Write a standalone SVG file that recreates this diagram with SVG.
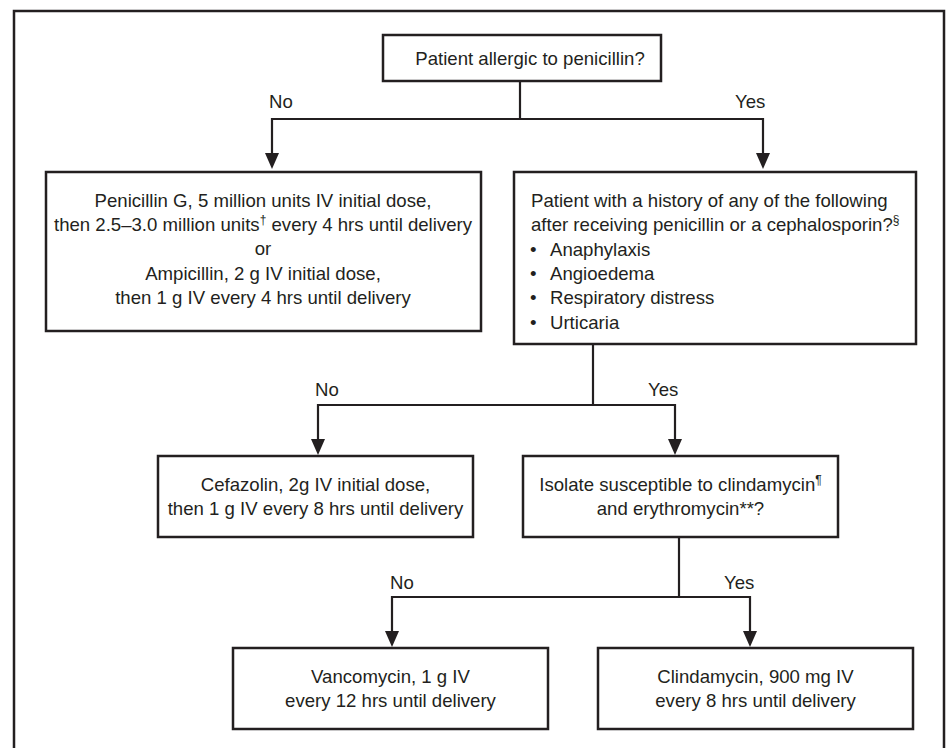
<svg xmlns="http://www.w3.org/2000/svg" width="950" height="748" viewBox="0 0 950 748">
<defs>
<style>
.box{fill:#ffffff;stroke:#231f20;stroke-width:2.5}
.con{fill:none;stroke:#231f20;stroke-width:2.2}
.t{font-family:"Liberation Sans",Arial,sans-serif;font-size:18.6px;fill:#231f20}
.c{text-anchor:middle}
.lbl{font-family:"Liberation Sans",Arial,sans-serif;font-size:18.6px;fill:#231f20}
.sup{font-size:12px}
</style>
<marker id="arr" viewBox="0 0 16 14" refX="0" refY="7" markerWidth="16" markerHeight="14" markerUnits="userSpaceOnUse" orient="auto">
<path d="M0,0 L16,7 L0,14 z" fill="#231f20"/>
</marker>
</defs>
<rect width="950" height="748" fill="#ffffff"/>
<path d="M14,760 V11 H944 V760" fill="none" stroke="#231f20" stroke-width="2.5"/>

<g id="connectors">
<path class="con" d="M520,81 V119"/>
<path class="con" d="M520,119 H272 V153" marker-end="url(#arr)"/>
<path class="con" d="M520,119 H763 V153" marker-end="url(#arr)"/>
<path class="con" d="M593,344 V405"/>
<path class="con" d="M593,405 H318 V439" marker-end="url(#arr)"/>
<path class="con" d="M593,405 H675 V439" marker-end="url(#arr)"/>
<path class="con" d="M679,537 V597"/>
<path class="con" d="M679,597 H392 V631" marker-end="url(#arr)"/>
<path class="con" d="M679,597 H750 V631" marker-end="url(#arr)"/>
<text class="lbl" x="269" y="108">No</text>
<text class="lbl" x="735" y="108">Yes</text>
<text class="lbl" x="315" y="396">No</text>
<text class="lbl" x="648" y="396">Yes</text>
<text class="lbl" x="390" y="589">No</text>
<text class="lbl" x="724" y="589">Yes</text>
</g>

<g id="n-allergic">
<rect class="box" x="383" y="35" width="278" height="46"/>
<text class="t c" x="530" y="65">Patient allergic to penicillin?</text>
</g>

<g id="n-penicillin">
<rect class="box" x="46" y="172" width="435" height="159"/>
<text class="t c" x="263" y="207">Penicillin G, 5 million units IV initial dose,</text>
<text class="t c" x="263" y="231">then 2.5–3.0 million units<tspan class="sup" dy="-7">†</tspan><tspan dy="7"> every 4 hrs until delivery</tspan></text>
<text class="t c" x="263" y="255">or</text>
<text class="t c" x="263" y="280">Ampicillin, 2 g IV initial dose,</text>
<text class="t c" x="263" y="304">then 1 g IV every 4 hrs until delivery</text>
</g>

<g id="n-history">
<rect class="box" x="514" y="172" width="402" height="172"/>
<text class="t" x="531" y="207">Patient with a history of any of the following</text>
<text class="t" x="531" y="231">after receiving penicillin or a cephalosporin?<tspan class="sup" dy="-7">§</tspan></text>
<text class="t" x="530" y="256" font-size="13">•</text>
<text class="t" x="550" y="256">Anaphylaxis</text>
<text class="t" x="530" y="280" font-size="13">•</text>
<text class="t" x="550" y="280">Angioedema</text>
<text class="t" x="530" y="304" font-size="13">•</text>
<text class="t" x="550" y="304">Respiratory distress</text>
<text class="t" x="530" y="329" font-size="13">•</text>
<text class="t" x="550" y="329">Urticaria</text>
</g>

<g id="n-cefazolin">
<rect class="box" x="158" y="456" width="315" height="81"/>
<text class="t c" x="315.5" y="491">Cefazolin, 2g IV initial dose,</text>
<text class="t c" x="315.5" y="515">then 1 g IV every 8 hrs until delivery</text>
</g>

<g id="n-isolate">
<rect class="box" x="523" y="456" width="315" height="81"/>
<text class="t c" x="680.5" y="491">Isolate susceptible to clindamycin<tspan class="sup" dy="-7">¶</tspan></text>
<text class="t c" x="680.5" y="515">and erythromycin**?</text>
</g>

<g id="n-vancomycin">
<rect class="box" x="233" y="648" width="315" height="81"/>
<text class="t c" x="390.5" y="683">Vancomycin, 1 g IV</text>
<text class="t c" x="390.5" y="707">every 12 hrs until delivery</text>
</g>

<g id="n-clindamycin">
<rect class="box" x="598" y="648" width="315" height="81"/>
<text class="t c" x="755.5" y="683">Clindamycin, 900 mg IV</text>
<text class="t c" x="755.5" y="707">every 8 hrs until delivery</text>
</g>
</svg>
